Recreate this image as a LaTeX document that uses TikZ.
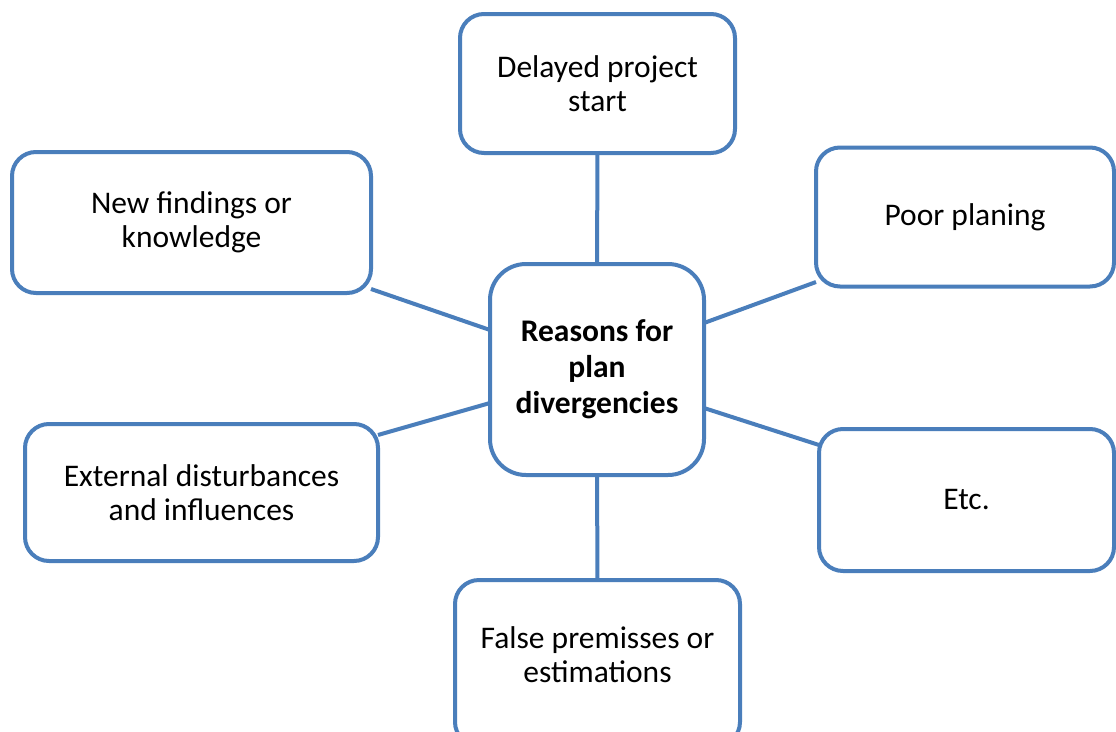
\documentclass[tikz,border=0pt]{standalone}
\usepackage{fontspec}
\setmainfont{Carlito}
\usetikzlibrary{backgrounds}
\definecolor{frame}{HTML}{4A7EBB}
\tikzset{
  reason/.style={draw=frame, line width=4pt, fill=white, rounded corners=24pt,
    inner sep=0pt, outer sep=0pt, align=center,
    font=\fontsize{31.5}{34}\selectfont},
  hub/.style={reason, rounded corners=36pt, font=\fontsize{31.5}{36}\selectfont\bfseries},
  link/.style={draw=frame, line width=4pt}
}
\begin{document}
\begin{tikzpicture}[x=1pt, y=-1pt]
  \useasboundingbox (0,0) rectangle (1116,731);
  \clip (0,0) rectangle (1116,731);
  % central topic
  \node[hub, minimum width=214pt, minimum height=211pt] (rc) at (597,369.5)
    {Reasons for\\plan\\divergencies};
  % surrounding causes
  \node[reason, minimum width=275pt, minimum height=139pt] (ds) at (597.5,83.5)
    {Delayed project\\start};
  \node[reason, minimum width=359pt, minimum height=141pt] (nf) at (191.5,222.5)
    {New findings or\\knowledge};
  \node[reason, minimum width=298pt, minimum height=139pt] (pp) at (965,217)
    {Poor planing};
  \node[reason, minimum width=353pt, minimum height=137pt] (ed) at (201.5,492.5)
    {External disturbances\\and influences};
  \node[reason, minimum width=295pt, minimum height=142pt] (et) at (966.5,500)
    {Etc.};
  \node[reason, minimum width=285pt, minimum height=166pt] (fp) at (597.5,663)
    {False premisses or\\estimations\\[-18pt]};
  % spokes behind the boxes
  \begin{scope}[on background layer]
    \draw[link] (ds.south) -- (rc.north);
    \draw[link] (rc.south) -- (fp.north);
    \draw[link] ([yshift=-66.5pt]nf.east) -- ([yshift=39.5pt]rc.west);
    \draw[link] ([yshift=46.5pt]rc.east) -- ([yshift=-65pt]pp.west);
    \draw[link] ([yshift=-33.5pt]rc.west) -- ([yshift=57.5pt]ed.east);
    \draw[link] ([yshift=-38.5pt]rc.east) -- ([yshift=55pt]et.west);
  \end{scope}
\end{tikzpicture}
\end{document}
